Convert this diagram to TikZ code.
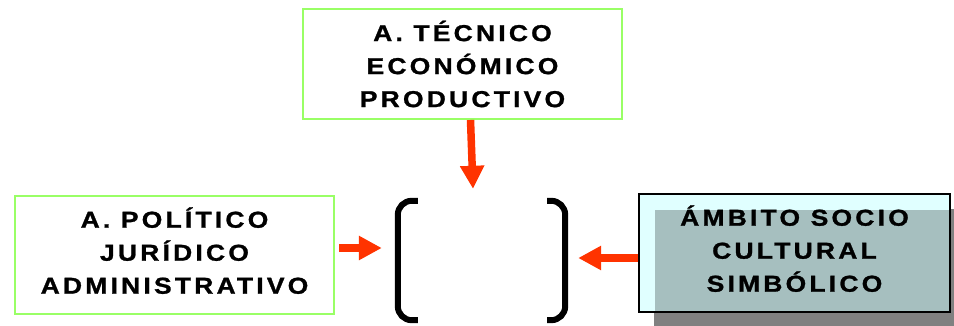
\documentclass[tikz,border=0pt]{standalone}
\usepackage{fontspec}
\newfontfamily\rotulo[LetterSpace=14, FakeStretch=1.15, FakeBold=1.2]{Liberation Sans}
\usepackage{tikz}
\usetikzlibrary{arrows.meta, calc, backgrounds}

\definecolor{verdeborde}{HTML}{99FF66}
\definecolor{rojoflecha}{HTML}{FF3300}
\definecolor{cianclaro}{HTML}{E0FFFF}
\definecolor{solape}{HTML}{A6BFBF}
\definecolor{sombra}{HTML}{808080}

\begin{document}
\begin{tikzpicture}[x=1pt,y=-1pt,>={Triangle[length=23pt,width=23pt]},thin]
                \tikzset{ambito/.style={draw=verdeborde, line width=2pt, minimum width=319pt, minimum height=110pt,
                                        inner sep=0pt, align=center, font=\rotulo\bfseries\fontsize{23}{33}\selectfont},
                         socio/.style={ambito, draw=black, fill=cianclaro, minimum width=311pt, minimum height=118pt,
                                       path picture={\fill[solape] ($(path picture bounding box.north west)+(16,16)$)
                                                     rectangle (path picture bounding box.south east);}},
                         corchete/.style={draw=black, line width=6pt, rounded corners=14pt},
                         flecha/.style={->, draw=rojoflecha, line width=7.5pt}}
                \useasboundingbox (0,0) rectangle (954,326);

                \node[ambito] (tec) at (462.5,64) {A. TÉCNICO\\ECONÓMICO\\PRODUCTIVO};
                \node[ambito, minimum height=118pt, text depth=9pt] (pol) at (174.5,255) {A. POLÍTICO\\JURÍDICO\\ADMINISTRATIVO};
                \node[socio, text depth=9pt] (soc) at (794.5,253) {ÁMBITO SOCIO\\CULTURAL\\SIMBÓLICO};
                \node[minimum width=167pt, minimum height=119pt, inner sep=0pt] (centro) at (481.5,260.5) {};

                % sombra de la caja de la derecha
                \begin{scope}[on background layer]
                  \fill[sombra] ($(soc.north west)+(16,16)$) rectangle ($(soc.south east)+(16,16)$);
                \end{scope}

                % corchetes
                \draw[corchete] ($(centro.north west)+(20,0)$) -- (centro.north west) -- (centro.south west) -- ($(centro.south west)+(20,0)$);
                \draw[corchete] ($(centro.north east)+(-18,0)$) -- (centro.north east) -- (centro.south east) -- ($(centro.south east)+(-18,0)$);

                \draw[flecha] ($(tec.south)+(8,0)$) -- ($(centro.north)+(-8.5,-12)$);
                \draw[flecha] ($(pol.east)+(4,-7)$) -- ($(centro.west)+(-16,-12.5)$);
                \draw[flecha] ($(soc.west)+(0,5)$) -- ($(centro.east)+(13,-2.5)$);
\end{tikzpicture}
\end{document}
